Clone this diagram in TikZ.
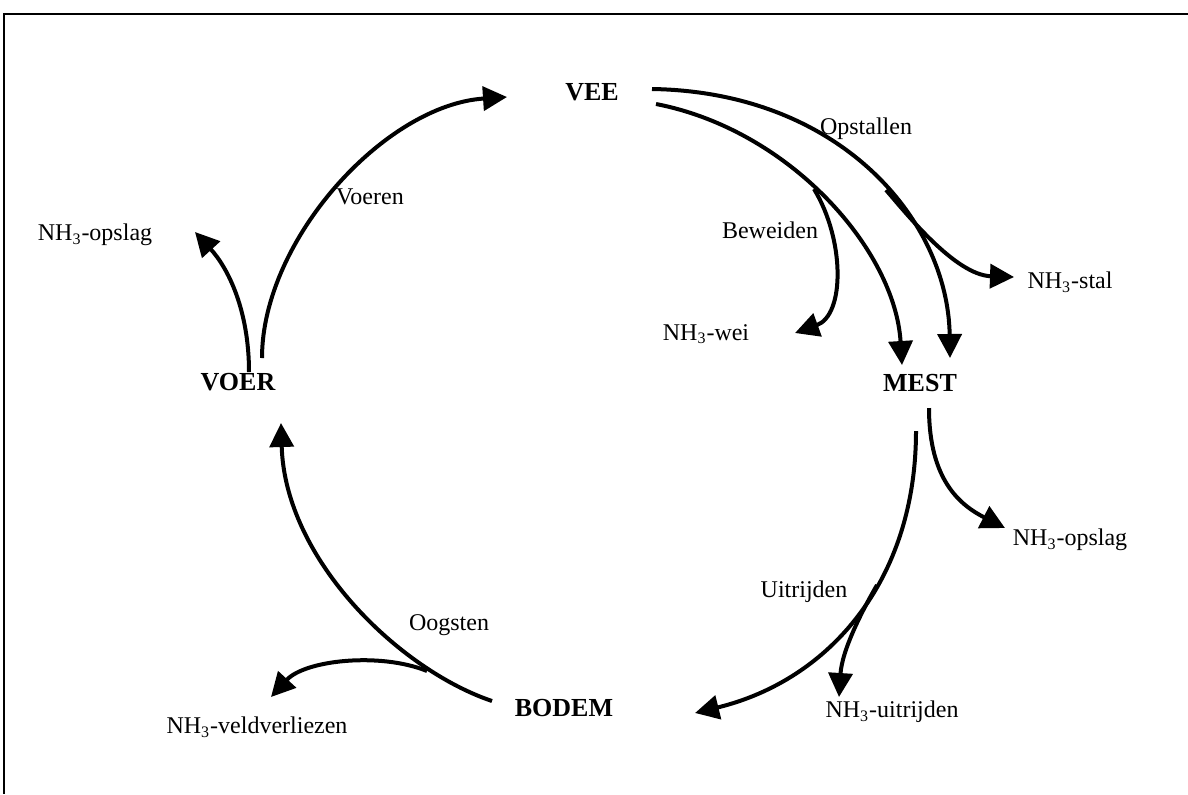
\documentclass[tikz,border=0pt]{standalone}
\usepackage{fontspec}
\setmainfont{Liberation Serif}
\usetikzlibrary{arrows.meta}
\tikzset{
 stock/.style={inner sep=1pt, font=\fontsize{13}{15}\selectfont\bfseries},
 flowlabel/.style={inner sep=1pt, font=\fontsize{12}{14}\selectfont},
 loss/.style={flowlabel},
 flow/.style={-{Triangle[length=12pt,width=12pt]}, line width=2pt},
 frameline/.style={line width=1pt}
}
\newcommand{\nhdrie}{NH\textsubscript{3}}

\begin{document}
\begin{tikzpicture}[x=0.5pt,y=-0.5pt]
\useasboundingbox (0,0) rectangle (1188,794);
\draw[frameline] (1188,14) -- (4,14) -- (4,794);
\node[stock] (vee) at (592,92) {VEE};
\node[stock] (mest) at (920,383) {MEST};
\node[stock] (bodem) at (564,708) {BODEM};
\node[stock] (voer) at (238,382) {VOER};
\node[flowlabel] (opstallen) at (866,129) {Opstallen};
\node[flowlabel] (beweiden) at (770,230) {Beweiden};
\node[flowlabel] (uitrijden) at (804,592) {Uitrijden};
\node[flowlabel] (oogsten) at (449,625) {Oogsten};
\node[flowlabel] (voeren) at (370,197) {Voeren};
\node[loss] (stal) at (1070,282) {\nhdrie-stal};
\node[loss] (wei) at (706,334) {\nhdrie-wei};
\node[loss] (opslagmest) at (1070,540) {\nhdrie-opslag};
\node[loss] (uitr) at (892,712) {\nhdrie-uitrijden};
\node[loss] (veld) at (257,727) {\nhdrie-veldverliezen};
\node[loss] (opslagvoer) at (95,235) {\nhdrie-opslag};
\coordinate (veeA) at (652,89);
\coordinate (veeB) at (656,104);
\coordinate (mestA) at (950,358);
\coordinate (mestB) at (902,365);
\coordinate (mestC) at (916,431);
\coordinate (mestD) at (929,408);
\coordinate (stalS) at (886,190);
\coordinate (stalT) at (1014,277);
\coordinate (weiS) at (814,189);
\coordinate (weiT) at (795,333);
\coordinate (opslagT) at (1005,528);
\coordinate (bodemT) at (695,713);
\coordinate (uitrS) at (877,585);
\coordinate (uitrT) at (839,697);
\coordinate (bodemS) at (492,701);
\coordinate (voerT) at (281,423);
\coordinate (veldS) at (427,671);
\coordinate (veldT) at (271,697);
\coordinate (voerA) at (262,358);
\coordinate (voerB) at (249,372);
\coordinate (veeT) at (507,97);
\coordinate (opslagvT) at (195,232);
\draw[flow] (veeA) .. controls (840,92) and (948,220) .. (mestA);
\draw[flow] (veeB) .. controls (790,130) and (895,250) .. (mestB);
\draw[flow] (stalS) .. controls (906,213) and (955,275) .. (stalT);
\draw[flow] (weiS) .. controls (845,240) and (845,315) .. (weiT);
\draw[flow] (mestD) .. controls (929,480) and (960,505) .. (opslagT);
\draw[flow] (mestC) .. controls (916,580) and (830,680) .. (bodemT);
\draw[flow] (uitrS) .. controls (862,611) and (842,650) .. (uitrT);
\draw[flow] (bodemS) .. controls (400,670) and (285,560) .. (voerT);
\draw[flow] (veldS) .. controls (380,652) and (305,660) .. (veldT);
\draw[flow] (voerA) .. controls (262,240) and (385,105) .. (veeT);
\draw[flow] (voerB) .. controls (249,310) and (228,268) .. (opslagvT);
\end{tikzpicture}
\end{document}
